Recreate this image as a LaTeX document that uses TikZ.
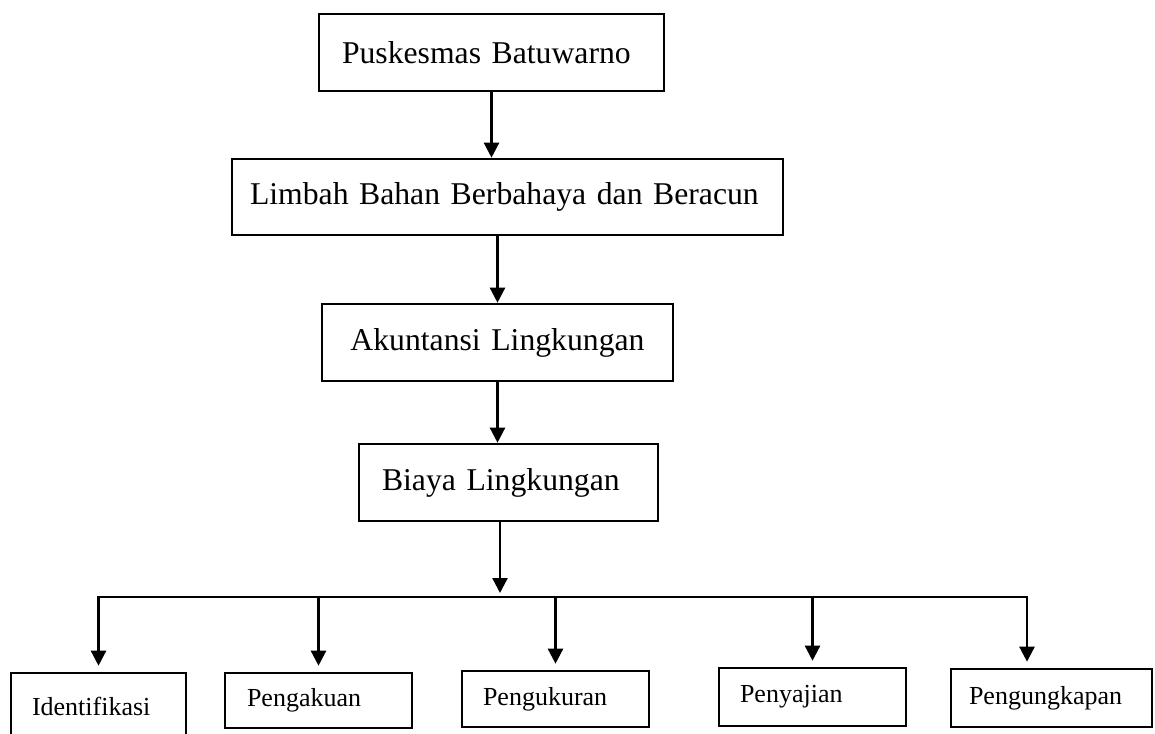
\documentclass[tikz,border=0pt]{standalone}
\usepackage{fontspec}
\setmainfont{Liberation Serif}
\usetikzlibrary{arrows.meta}
\begin{document}
\begin{tikzpicture}[x=1pt, y=-1pt,
    box/.style={draw, line width=2.6pt, align=left, minimum height=#1},
    big/.style={font=\fontsize{31.7}{38}\selectfont},
    small/.style={font=\fontsize{26}{31}\selectfont},
    arr/.style={line width=2.4pt, -{Triangle[length=15pt, width=15pt]}}]
        
        \useasboundingbox (0,0) rectangle (1155,733);
        
        % Draw the main chain of boxes
        \node[box=77pt, big, text width=299pt, inner xsep=23pt] (puskesmas) at (491.5,52.5) {Puskesmas Batuwarno};
        \node[box=76pt, big, text width=515pt, inner xsep=18pt] (limbah) at (507.5,197) {Limbah Bahan Berbahaya dan Beracun};
        \node[box=77pt, big, text width=331pt, inner xsep=10pt, align=center] (akuntansi) at (497.5,342.5) {Akuntansi Lingkungan};
        \node[box=77pt, big, text width=253pt, inner xsep=23pt] (biaya) at (508.5,482.5) {Biaya Lingkungan};
        
        % Arrows between the main boxes
        \draw[arr] (puskesmas.south) -- (puskesmas.south |- limbah.north);
        \draw[arr] (akuntansi.north |- limbah.south) -- (akuntansi.north);
        \draw[arr] (akuntansi.south) -- (akuntansi.south |- biaya.north);
        
        % Draw the bottom row
        \node[box=66pt, small, text width=133pt, inner xsep=21pt] (identifikasi) at (98.5,706) {Identifikasi};
        \node[box=55pt, small, text width=143pt, inner xsep=22pt] (pengakuan) at (318.5,700.5) {Pengakuan};
        \node[box=56pt, small, text width=145pt, inner xsep=21pt] (pengukuran) at (555.5,699) {Pengukuran};
        \node[box=58pt, small, text width=145pt, inner xsep=21pt] (penyajian) at (812.5,697) {Penyajian};
        \node[box=58pt, small, text width=165pt, inner xsep=18pt] (pengungkapan) at (1051.5,698) {Pengungkapan};
        
        % Branch from Biaya Lingkungan to the bottom row
        \coordinate (branch) at (500,597);
        \coordinate (busend) at (1027,597);
        \draw[arr, shorten >=4pt] (biaya.south -| branch) -- (branch);
        \draw[arr, shorten >=6pt] (busend) -- (identifikasi.north |- branch) -- (identifikasi.north);
        \draw[arr, shorten >=6pt] (branch) -- (busend) -- (busend |- pengungkapan.north);
        \foreach \n in {pengakuan, pengukuran, penyajian}
            \draw[arr, shorten >=6pt] (\n.north |- branch) -- (\n.north);
        
\end{tikzpicture}
\end{document}
